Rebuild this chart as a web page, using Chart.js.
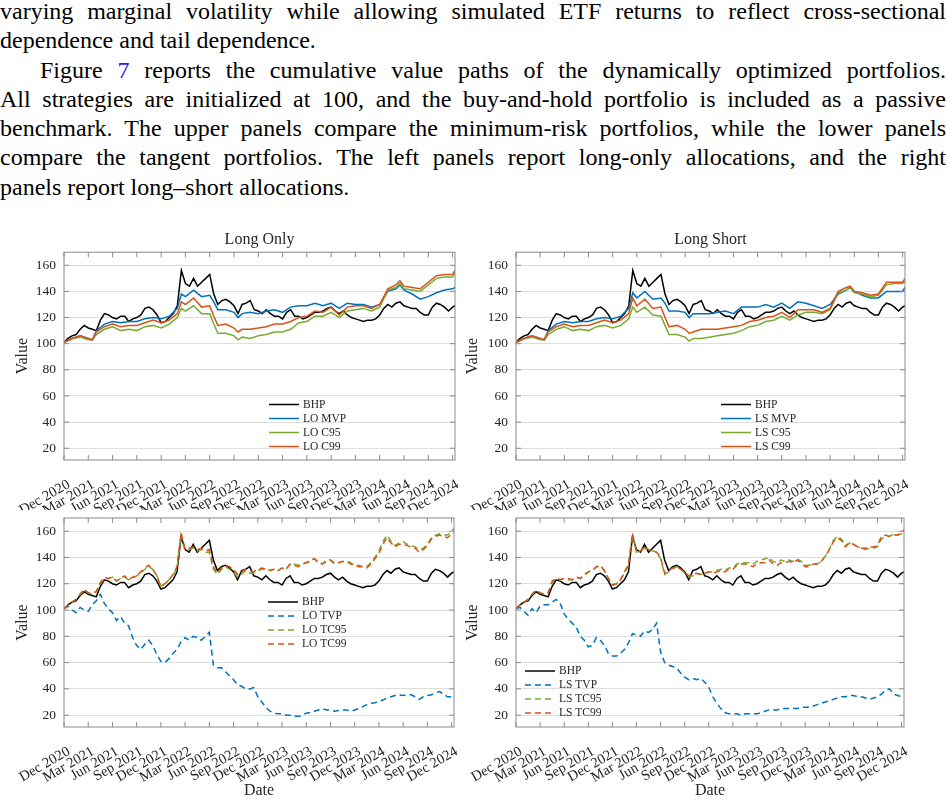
<!DOCTYPE html>
<html>
<head>
<meta charset="utf-8">
<script src="https://cdn.jsdelivr.net/npm/chart.js@4.4.1/dist/chart.umd.min.js"></script>
<style>
  body { margin: 0; background: #fff; width: 947px; height: 802px; position: relative; overflow: hidden; }
  #text { position: absolute; left: 0; top: -3px; width: 946px; font-family: "Liberation Serif", "Times New Roman", serif; font-size: 24px; line-height: 29.3px; color: #000; }
  #text div { text-align: justify; text-align-last: justify; white-space: nowrap; }
  #text div.last { text-align-last: left; }
  #text div.indent { padding-left: 40px; }
  .ref { color: #2020ff; }
  canvas { position: absolute; }
</style>
</head>
<body>
<div id="text">
  <div>varying marginal volatility while allowing simulated ETF returns to reflect cross-sectional</div>
  <div class="last">dependence and tail dependence.</div>
  <div class="indent">Figure <span class="ref">7</span> reports the cumulative value paths of the dynamically optimized portfolios.</div>
  <div>All strategies are initialized at 100, and the buy-and-hold portfolio is included as a passive</div>
  <div>benchmark. The upper panels compare the minimum-risk portfolios, while the lower panels</div>
  <div>compare the tangent portfolios. The left panels report long-only allocations, and the right</div>
  <div class="last">panels report long&#8211;short allocations.</div>
</div>
<canvas id="chartLO" width="462" height="285" style="left:0px;top:225px"></canvas>
<canvas id="chartLS" width="485" height="285" style="left:462px;top:225px"></canvas>
<canvas id="chartLOT" width="462" height="297" style="left:0px;top:505px"></canvas>
<canvas id="chartLST" width="485" height="297" style="left:462px;top:505px"></canvas>
<script>
// ***** Datos *****
// meses desde dic 2020 (medio mes)
const tHalf = [0,0.5,1,1.5,2,2.5,3,3.5,4,4.5,
  5,5.5,6,6.5,7,7.5,8,8.5,9,9.5,
  10,10.5,11,11.5,12,12.5,13,13.5,14,14.5,
  15,15.5,16,16.5,17,17.5,18,18.5,19,19.5,
  20,20.5,21,21.5,22,22.5,23,23.5,24,24.5,
  25,25.5,26,26.5,27,27.5,28,28.5,29,29.5,
  30,30.5,31,31.5,32,32.5,33,33.5,34,34.5,
  35,35.5,36,36.5,37,37.5,38,38.5,39,39.5,
  40,40.5,41,41.5,42,42.5,43,43.5,44,44.5,
  45,45.5,46,46.5,47,47.5,48,48.3]
// meses para las curvas de los paneles de arriba
const tTop = [0,1,2,3,3.5,4,5,6,7,8,9,10,11,12,13,14,14.5,15,16,17,18,18.5,19,20,21,21.5,
  22,23,24,25,26,27,28,29,30,31,32,33,34,35,36,37,38,39,40,41,41.5,42,43,44,45,46,47,48,48.3]

const xTickPos = [0,3,6,9,12,15,18,21,24,27,30,33,36,39,42,45,48]
const xTickLabels = ['Dec 2020','Mar 2021','Jun 2021','Sep 2021','Dec 2021','Mar 2022','Jun 2022','Sep 2022',
  'Dec 2022','Mar 2023','Jun 2023','Sep 2023','Dec 2023','Mar 2024','Jun 2024','Sep 2024','Dec 2024']
const yTicks = [20,40,60,80,100,120,140,160]

const bhp = [101,104,106,107,111,114,112,111,110,118,
  123,122,120,119,121,121,117,119,120,122,
  127,128,126,122,116,117,120,123,129,156,
  146,144,150,144,147,150,153,138,130,133,
  134,132,129,123,130,131,133,126,125,123,
  126,123,121,121,119,124,126,121,121,119,
  120,122,124,124,125,127,128,125,123,125,
  122,120,119,118,117,118,118,119,122,127,
  130,128,131,132,129,128,127,127,124,122,
  122,128,131,130,128,125,128,129]

const loMvp = [101,104,106,104,103,110,115,117,116,117,117,119,120,119,121,127,138,136,141,136,137,132,126,126,124,120,
  123,124,123,125,126,124,128,129,129,131,129,131,127,131,130,130,128,130,140,142,145,141,138,134,136,139,141,142,143]
const loC95 = [101,104,105,103,103,107,111,113,110,111,110,113,114,112,115,120,127,125,129,123,123,115,108,108,106,103,
  105,104,106,107,109,109,111,116,117,121,121,124,120,125,126,127,125,128,141,143,146,142,141,140,145,150,151,151,154]
const loC99 = [101,104,106,104,103,109,113,115,113,114,114,116,118,116,118,123,132,130,135,128,129,121,114,115,112,109,
  111,111,112,113,115,115,117,120,121,125,124,128,122,128,129,129,127,130,142,145,148,144,143,142,147,152,153,153,156]

const lsMvp = [101,104,106,104,103,110,115,117,116,117,117,119,120,119,121,127,139,135,140,134,135,131,125,125,124,120,
  123,123,123,124,125,123,128,128,128,130,128,131,127,132,131,129,127,130,138,141,143,140,137,135,135,140,140,140,143]
const lsC95 = [101,104,105,103,103,107,111,113,110,111,110,113,114,112,114,119,128,124,128,122,121,114,107,107,105,102,
  104,104,105,106,107,108,110,113,114,117,118,121,118,122,124,124,123,126,139,141,143,139,138,136,137,145,146,146,148]
const lsC99 = [101,104,106,104,103,109,113,115,113,114,114,116,118,116,118,123,135,129,134,127,128,120,113,114,111,108,
  109,111,111,111,112,113,114,117,118,120,121,124,120,126,126,126,124,127,140,143,144,140,139,137,138,147,147,147,150]

const loTvp = [101,103,100,98,102,100,99,104,107,112,
  105,101,98,92,95,90,88,79,73,70,
  74,77,73,66,61,60,63,67,70,76,
  79,77,80,79,77,80,83,58,56,56,
  53,50,47,43,42,40,40,41,34,30,
  26,23,21.5,21,21,20,20,19.5,19,20,
  21.5,22,23,24,25,24,24,23,23.5,24,
  24,23,24,25,26.5,28,29,29.5,30.5,31.5,
  33,34,35,35.5,35,35.5,35.5,34,32,34,
  35,35.5,37,38,36,34,34,34]
const loTc95 = [101,104,106,108,112,115,113,112,114,120,
  124,124,125,122,124,125,123,124,126,128,
  131,133,131,126,118,120,123,126,132,157,
  145,146,147,145,146,144,144,131,127,131,
  133,131,129,125,127,130,128,128,130,131,
  131,130,131,130,132,131,135,135,134,135,
  136,138,139,137,135,138,138,136,136,137,
  137,136,134,134,133,133,136,140,145,152,
  157,152,149,151,152,150,149,148,146,147,
  150,155,157,158,157,157,160,162]
const loTc99 = [101,104,106,108,112,116,113,113,114,121,
  125,124,125,122,124,126,123,125,126,129,
  132,134,131,126,118,120,123,127,133,159,
  146,147,148,146,147,145,146,133,128,132,
  134,133,131,127,129,131,130,129,131,132,
  131,130,131,130,132,131,135,134,133,135,
  136,137,139,136,135,137,138,135,136,137,
  137,135,134,133,133,132,135,139,143,150,
  155,151,148,150,150,149,148,147,144,146,
  149,154,156,157,156,155,158,159]

const lsTvp = [101,102,99,96,101,98,103,104,104,106,
  108,105,97,93,90,87,80,77,72,73,
  79,77,73,67,65,65,67,70,75,82,
  81,80,84,83,85,90,68,60,58,57,
  56,52,49,47,48,47,48,45,41,34,
  29,25,22,21,21,21,20,21,21,21,
  21,22,23,24,24,24,25,25,25,25,
  25,26,26,26,27,28,29,30,31,32,
  33,34,34,35,35,34,34,33,32,33,
  34,36,39,40,36,35,34,35]
const lsTc95 = [101,104,106,108,112,115,113,112,113,121,
  124,123,124,123,123,125,124,126,129,130,
  133,133,130,124,119,120,123,128,134,157,
  144,145,147,145,145,144,139,127,129,131,
  133,131,128,125,126,128,127,128,129,129,
  130,131,130,132,132,135,136,136,136,135,
  137,138,139,140,137,136,138,137,138,137,
  139,137,134,134,135,135,137,141,146,153,
  156,154,149,151,150,148,147,146,147,147,
  148,154,156,156,158,157,158,160]
const lsTc99 = [101,104,106,108,112,115,113,112,113,122,
  124,123,124,124,123,125,124,127,129,130,
  133,134,130,124,119,120,123,129,135,158,
  144,145,148,146,145,144,140,128,130,132,
  133,131,129,126,127,128,127,128,129,128,
  129,130,129,131,131,134,135,135,134,133,
  135,136,136,138,135,134,136,136,137,136,
  138,136,133,133,135,135,137,141,146,152,
  155,153,148,151,150,148,147,147,148,148,
  149,156,157,156,157,157,159,161]
// ***** Fin de datos *****

const serif = '"Liberation Serif", "Times New Roman", serif'
const axisColor = '#262626'
const black = '#000000'
const blue = '#0072BD'
const green = '#77AC30'
const orange = '#D95319'

const toPoints = (xs, ys) => xs.map((x, i) => ({ x: x, y: ys[i] }))

const series = (label, xs, ys, color, dashed, order) => ({
  label: label,
  data: toPoints(xs, ys),
  borderColor: color,
  borderWidth: 1.5,
  borderDash: dashed ? [6, 4] : [],
  pointRadius: 0,
  tension: 0,
  fill: false,
  order: order
})

// caja con marcas hacia adentro, estilo matlab
const axesBox = {
  id: 'axesBox',
  afterDatasetsDraw(chart) {
    const { ctx, chartArea: a, scales: { x, y } } = chart
    ctx.save()
    ctx.strokeStyle = '#8a8a8a'
    ctx.lineWidth = 1
    ctx.strokeRect(a.left, a.top, a.right - a.left, a.bottom - a.top)
    ctx.beginPath()
    xTickPos.forEach(v => {
      const px = x.getPixelForValue(v)
      ctx.moveTo(px, a.bottom); ctx.lineTo(px, a.bottom - 5)
      ctx.moveTo(px, a.top); ctx.lineTo(px, a.top + 5)
    })
    yTicks.forEach(v => {
      const py = y.getPixelForValue(v)
      ctx.moveTo(a.left, py); ctx.lineTo(a.left + 5, py)
      ctx.moveTo(a.right, py); ctx.lineTo(a.right - 5, py)
    })
    ctx.stroke()
    ctx.restore()
  }
}

// leyenda dentro del grafico
const insideLegend = {
  id: 'insideLegend',
  afterDraw(chart, args, opts) {
    const ctx = chart.ctx
    ctx.save()
    ctx.font = '11.5px ' + serif
    ctx.textBaseline = 'middle'
    chart.data.datasets.forEach((ds, i) => {
      const yy = opts.y + i * opts.step
      ctx.strokeStyle = ds.borderColor
      ctx.lineWidth = 1.5
      ctx.setLineDash(ds.borderDash)
      ctx.beginPath()
      ctx.moveTo(opts.x, yy)
      ctx.lineTo(opts.x + 30, yy)
      ctx.stroke()
      ctx.setLineDash([])
      ctx.fillStyle = axisColor
      ctx.fillText(ds.label, opts.x + 34, yy)
    })
    ctx.restore()
  }
}

const makeChart = (id, cfg) => new Chart(document.getElementById(id), {
  type: 'line',
  data: { datasets: cfg.datasets },
  options: {
    responsive: false,
    animation: false,
    devicePixelRatio: 1,
    layout: { padding: cfg.padding },
    plugins: {
      legend: { display: false },
      tooltip: { enabled: false },
      title: {
        display: !!cfg.title,
        text: cfg.title,
        fullSize: false,
        color: axisColor,
        font: { family: serif, size: 16, weight: 'normal' },
        padding: { top: 5, bottom: 3 }
      },
      insideLegend: cfg.legend
    },
    scales: {
      x: {
        type: 'linear',
        min: 0,
        max: 48.3,
        bounds: 'data',
        grid: { display: false },
        border: { display: false },
        ticks: {
          autoSkip: false,
          minRotation: 30,
          maxRotation: 30,
          padding: 8,
          labelOffset: 5,
          color: axisColor,
          font: { family: serif, size: 14.5 },
          callback: (v, i) => xTickLabels[i]
        },
        title: {
          display: !!cfg.xTitle,
          text: cfg.xTitle,
          color: axisColor,
          font: { family: serif, size: 16 },
          padding: { top: 0, bottom: 2 }
        },
        afterBuildTicks: s => { s.ticks = xTickPos.map(v => ({ value: v })) },
        afterFit: s => { s.height = cfg.xH; s.paddingLeft = 0; s.paddingRight = 0 }
      },
      y: {
        min: 11,
        max: 170,
        bounds: 'data',
        grid: { color: '#dedede', lineWidth: 1, drawTicks: false },
        border: { display: false },
        ticks: { padding: 8, color: axisColor, font: { family: serif, size: 13.5 } },
        title: {
          display: true,
          text: 'Value',
          color: axisColor,
          font: { family: serif, size: 16 },
          padding: { top: cfg.yTitlePad, bottom: 0 }
        },
        afterBuildTicks: s => { s.ticks = yTicks.map(v => ({ value: v })) },
        afterFit: s => { s.width = cfg.yW; s.paddingTop = 0; s.paddingBottom = 0 }
      }
    }
  },
  plugins: [axesBox, insideLegend]
})

// ***** Graficos *****
makeChart('chartLO', {
  title: 'Long Only',
  datasets: [
    series('BHP', tHalf, bhp, black, false, 3),
    series('LO MVP', tTop, loMvp, blue, false, 2),
    series('LO C95', tTop, loC95, green, false, 1),
    series('LO C99', tTop, loC99, orange, false, 0)
  ],
  padding: { left: 0, right: 7, top: 0, bottom: 0 },
  yW: 64, xH: 50, yTitlePad: 13,
  legend: { x: 269, y: 179.5, step: 14 }
})

makeChart('chartLS', {
  title: 'Long Short',
  datasets: [
    series('BHP', tHalf, bhp, black, false, 3),
    series('LS MVP', tTop, lsMvp, blue, false, 2),
    series('LS C95', tTop, lsC95, green, false, 1),
    series('LS C99', tTop, lsC99, orange, false, 0)
  ],
  padding: { left: 0, right: 42, top: 0, bottom: 0 },
  yW: 54, xH: 50, yTitlePad: 1,
  legend: { x: 259, y: 179.5, step: 14 }
})

makeChart('chartLOT', {
  xTitle: 'Date',
  datasets: [
    series('BHP', tHalf, bhp, black, false, 3),
    series('LO TVP', tHalf, loTvp, blue, true, 2),
    series('LO TC95', tHalf, loTc95, green, true, 1),
    series('LO TC99', tHalf, loTc99, orange, true, 0)
  ],
  padding: { left: 0, right: 8, top: 13, bottom: 0 },
  yW: 64, xH: 75, yTitlePad: 13,
  legend: { x: 268, y: 97, step: 14 }
})

makeChart('chartLST', {
  xTitle: 'Date',
  datasets: [
    series('BHP', tHalf, bhp, black, false, 3),
    series('LS TVP', tHalf, lsTvp, blue, true, 2),
    series('LS TC95', tHalf, lsTc95, green, true, 1),
    series('LS TC99', tHalf, lsTc99, orange, true, 0)
  ],
  padding: { left: 0, right: 43, top: 13, bottom: 0 },
  yW: 54, xH: 75, yTitlePad: 1,
  legend: { x: 63, y: 166, step: 14 }
})
</script>
</body>
</html>
